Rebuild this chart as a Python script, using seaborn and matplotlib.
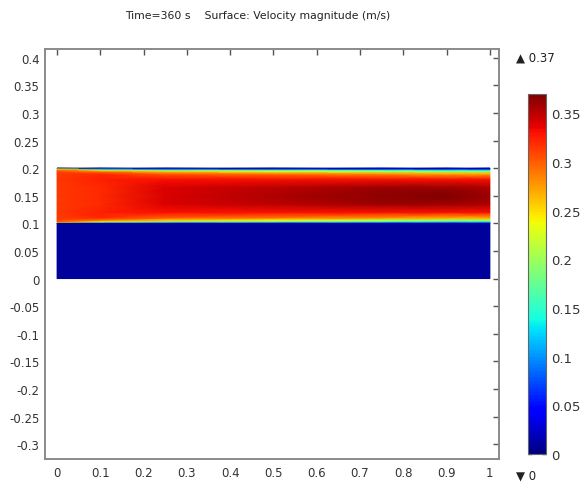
import numpy as np
import seaborn as sns
import matplotlib.pyplot as plt

# x stations along the channel
x_st = [0.0, 0.1, 0.25, 0.5, 0.75, 0.9, 1.0]
# y levels across the upper channel (bottom wall 0.1 -> top wall 0.2)
y_ch = [0.100, 0.101, 0.103, 0.106, 0.110, 0.120, 0.135, 0.150,
        0.165, 0.180, 0.190, 0.194, 0.197, 0.199, 0.200]
# velocity magnitude profiles (m/s), one per x station, bottom -> top
u_x000 = [0.00, 0.23, 0.30, 0.31, 0.315, 0.315, 0.315, 0.315, 0.315, 0.315, 0.315, 0.31, 0.30, 0.23, 0.00]
u_x010 = [0.00, 0.10, 0.22, 0.29, 0.32, 0.325, 0.32, 0.32, 0.32, 0.325, 0.32, 0.29, 0.22, 0.10, 0.00]
u_x025 = [0.00, 0.07, 0.18, 0.26, 0.30, 0.33, 0.34, 0.34, 0.34, 0.33, 0.30, 0.26, 0.18, 0.07, 0.00]
u_x050 = [0.00, 0.06, 0.16, 0.24, 0.29, 0.33, 0.35, 0.355, 0.35, 0.33, 0.29, 0.24, 0.16, 0.06, 0.00]
u_x075 = [0.00, 0.05, 0.14, 0.22, 0.28, 0.33, 0.36, 0.365, 0.36, 0.33, 0.28, 0.22, 0.14, 0.05, 0.00]
u_x090 = [0.00, 0.05, 0.13, 0.21, 0.27, 0.33, 0.36, 0.37, 0.36, 0.33, 0.27, 0.21, 0.13, 0.05, 0.00]
u_x100 = [0.00, 0.05, 0.13, 0.21, 0.27, 0.33, 0.355, 0.36, 0.355, 0.33, 0.27, 0.21, 0.13, 0.05, 0.00]
# lower (nearly stagnant) block
y_low = [0.0, 0.1]
u_low = [0.01, 0.01]

x_ticks = [0, 0.1, 0.2, 0.3, 0.4, 0.5, 0.6, 0.7, 0.8, 0.9, 1]
x_labels = ["0", "0.1", "0.2", "0.3", "0.4", "0.5", "0.6", "0.7", "0.8", "0.9", "1"]
y_ticks = [-0.3, -0.25, -0.2, -0.15, -0.1, -0.05, 0, 0.05, 0.1, 0.15, 0.2, 0.25, 0.3, 0.35, 0.4]
y_labels = ["-0.3", "-0.25", "-0.2", "-0.15", "-0.1", "-0.05", "0", "0.05",
            "0.1", "0.15", "0.2", "0.25", "0.3", "0.35", "0.4"]
cb_ticks = [0, 0.05, 0.1, 0.15, 0.2, 0.25, 0.3, 0.35]
cb_labels = ["0", "0.05", "0.1", "0.15", "0.2", "0.25", "0.3", "0.35"]
u_min, u_max = 0, 0.37

sns.set_style("white")
plt.rcParams['font.family'] = ['DejaVu Sans']

fig = plt.figure(figsize=(5.82, 4.89), dpi=100)
ax = fig.add_axes([0.0773, 0.0593, 0.780, 0.8385])

U = np.array([u_x000, u_x010, u_x025, u_x050, u_x075, u_x090, u_x100]).T
X, Y = np.meshgrid(x_st, y_ch)
mesh = ax.pcolormesh(X, Y, U, shading='gouraud', cmap='jet', vmin=u_min, vmax=u_max)

XL, YL = np.meshgrid(x_st, y_low)
UL = np.tile(np.array(u_low)[:, None], (1, len(x_st)))
ax.pcolormesh(XL, YL, UL, shading='gouraud', cmap='jet', vmin=u_min, vmax=u_max)

ax.set_xlim(-0.028, 1.021)
ax.set_ylim(-0.327, 0.416)
ax.set_xticks(x_ticks)
ax.set_xticklabels(x_labels)
ax.set_yticks(y_ticks)
ax.set_yticklabels(y_labels)
ax.tick_params(direction='in', length=4, width=1, color='#555555',
               top=True, right=True, labelsize=8.5, labelcolor='#333333', pad=5)
ax.tick_params(axis='y', pad=4)
for s in ax.spines.values():
    s.set_color('#8a8a8a')
    s.set_linewidth(1.4)

fig.text(0.443, 0.968, "Time=360 s    Surface: Velocity magnitude (m/s)", fontsize=7.8,
         color='#222222', ha='center', va='center')

cax = fig.add_axes([0.907, 0.0695, 0.031, 0.7365])
cb = fig.colorbar(mesh, cax=cax, ticks=cb_ticks)
cb.set_ticklabels(cb_labels)
cb.outline.set_edgecolor('#666666')
cb.outline.set_linewidth(0.8)
cax.tick_params(direction='in', length=3, width=1, color='#333333',
                left=True, right=True, labelsize=9.5, labelcolor='#333333', pad=4)

fig.text(0.886, 0.881, "\u25b2 " + "0.37", fontsize=8.5, color='#222222', va='center')
fig.text(0.886, 0.026, "\u25bc " + "0", fontsize=8.5, color='#222222', va='center')

fig.savefig("out.png", dpi=100)
